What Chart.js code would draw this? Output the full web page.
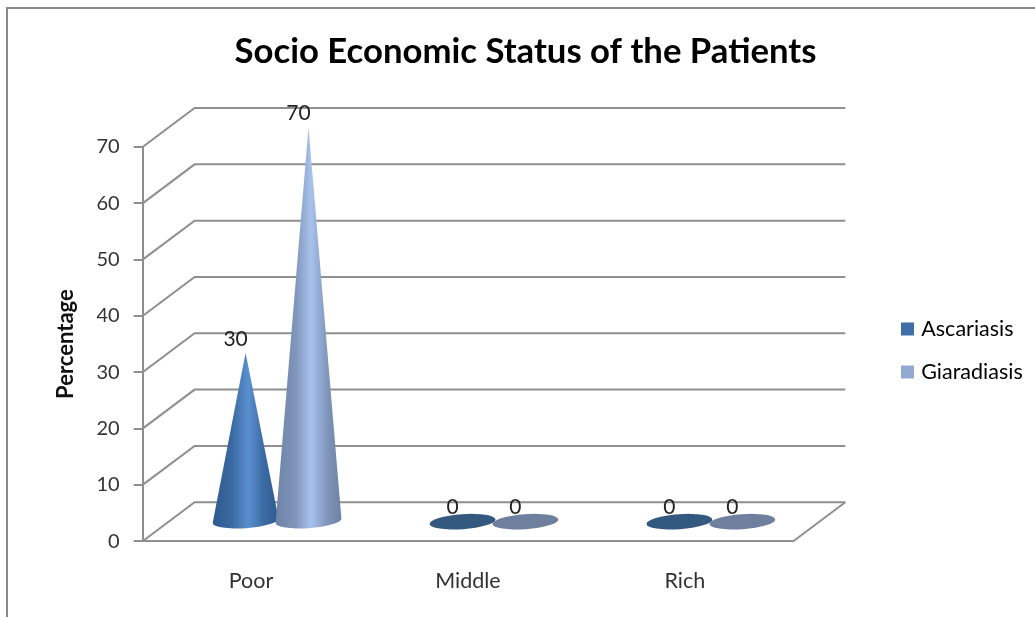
<!DOCTYPE html>
<html>
<head>
<meta charset="utf-8">
<title>Socio Economic Status of the Patients</title>
<script src="https://cdn.jsdelivr.net/npm/chart.js@4"></script>
<style>
    html, body { margin: 0; background: #fff; overflow: hidden; }
    #wrap { position: relative; width: 1035px; height: 617px; }
    #marco { position: absolute; left: 6px; top: 7px; right: 0; bottom: 0; border-top: 2px solid #8a8a8a; border-left: 2px solid #8a8a8a; }
    canvas { display: block; }
</style>
</head>
<body>
<div id="wrap">
    <canvas id="chartEstatus" width="1035" height="617"></canvas>
    <div id="marco"></div>
</div>
<script>
const categorias = ["Poor", "Middle", "Rich"];
const ascariasis = [30, 0, 0];
const giardiasis = [70, 0, 0];
const ticksY = [0, 10, 20, 30, 40, 50, 60, 70];
const nombres = ["Ascariasis", "Giaradiasis"];

// profundidad del piso 3D
const fondoX = 52;
const fondoY = -39;
const colorGrid = "#8f8f8f";

const estilos = [
    { borde: "#2c5a8e", medio: "#3b6aa3", centro: "#5a90cf", plano: "#34597f", leyenda: "#3f6fa8" },
    { borde: "#6d82a6", medio: "#8095bb", centro: "#a8c2ec", plano: "#6f809e", leyenda: "#92a9d2" }
];

// paredes y piso detras de los conos
const paredes = {
    id: "paredes",
    beforeDatasetsDraw(chart) {
        const c = chart.ctx, y = chart.scales.y, a = chart.chartArea;
        c.save();
        c.strokeStyle = colorGrid;
        c.lineWidth = 2;
        ticksY.forEach(t => {
            const py = y.getPixelForValue(t);
            c.beginPath();
            c.moveTo(a.left, py);
            c.lineTo(a.left + fondoX, py + fondoY);
            c.lineTo(a.right + fondoX, py + fondoY);
            c.stroke();
        });
        c.beginPath();
        c.moveTo(a.right, a.bottom);
        c.lineTo(a.right + fondoX, a.bottom + fondoY);
        c.stroke();
        c.restore();
    }
};

// cada barra se dibuja como cono usando la posicion que da la escala
const conos = {
    id: "conos",
    afterDatasetsDraw(chart) {
        const c = chart.ctx;
        chart.data.datasets.forEach((ds, i) => {
            const est = estilos[i];
            chart.getDatasetMeta(i).data.forEach((bar, j) => {
                const cx = bar.x + fondoX / 2;
                const base = bar.base + fondoY / 2;
                const punta = bar.y + fondoY / 2;
                const rx = 33, ry = 7.5, giro = -4 * Math.PI / 180;
                const dx = rx * Math.cos(giro), dy = rx * Math.sin(giro);

                c.save();
                if (ds.data[j] === 0) {
                    c.fillStyle = est.plano;
                    c.beginPath();
                    c.ellipse(cx, base, rx, ry, giro, 0, Math.PI * 2);
                    c.fill();
                } else {
                    const g = c.createLinearGradient(cx - rx, 0, cx + rx, 0);
                    g.addColorStop(0, est.borde);
                    g.addColorStop(0.3, est.medio);
                    g.addColorStop(0.54, est.centro);
                    g.addColorStop(0.78, est.medio);
                    g.addColorStop(1, est.borde);
                    c.fillStyle = g;
                    c.beginPath();
                    c.moveTo(cx, punta);
                    c.lineTo(cx + dx, base + dy);
                    c.ellipse(cx, base, rx, ry, giro, 0, Math.PI);
                    c.closePath();
                    c.fill();
                }
                c.restore();

                c.save();
                c.fillStyle = "#222";
                c.font = "21px Lato";
                c.textAlign = "center";
                c.textBaseline = "middle";
                c.fillText(ds.data[j], cx - 10, punta - 14);
                c.restore();
            });
        });
    }
};

// acomoda la leyenda a la derecha, a media altura de los ejes
const moverLeyenda = {
    id: "moverLeyenda",
    afterLayout(chart) {
        const l = chart.legend;
        const dx = 883 - l.left;
        l.left += dx;
        l.right += dx;
        l.top += 28.5;
        l.bottom += 28.5;
    }
};

new Chart(document.getElementById("chartEstatus"), {
    type: "bar",
    data: {
        labels: categorias,
        datasets: [
            { label: nombres[0], data: ascariasis, backgroundColor: "rgba(0,0,0,0)", hoverBackgroundColor: "rgba(0,0,0,0)" },
            { label: nombres[1], data: giardiasis, backgroundColor: "rgba(0,0,0,0)", hoverBackgroundColor: "rgba(0,0,0,0)" }
        ]
    },
    options: {
        responsive: false,
        animation: false,
        categoryPercentage: 0.58,
        barPercentage: 1,
        layout: { padding: { left: 53, right: 37, top: 31, bottom: 4 } },
        plugins: {
            title: {
                display: true,
                text: "Socio Economic Status of the Patients",
                color: "#000",
                font: { family: "Lato", size: 34.7, weight: "bold" },
                padding: { top: 0, bottom: 74.4 }
            },
            legend: {
                position: "right",
                labels: {
                    color: "#333",
                    font: { family: "Lato", size: 21.5 },
                    usePointStyle: true,
                    boxWidth: 6,
                    boxHeight: 13,
                    padding: 21.5,
                    generateLabels: () => nombres.map((t, i) => ({
                        text: t, fillStyle: estilos[i].leyenda, strokeStyle: estilos[i].leyenda, lineWidth: 0, pointStyle: "rect", datasetIndex: i
                    }))
                }
            },
            tooltip: { enabled: false }
        },
        scales: {
            x: {
                grid: { display: false },
                border: { color: colorGrid, width: 2 },
                ticks: { color: "#333", font: { family: "Lato", size: 21.5 }, padding: 19, maxRotation: 0 }
            },
            y: {
                min: 0,
                max: 70,
                afterBuildTicks(ax) { ax.ticks = ticksY.map(v => ({ value: v })); },
                grid: { drawOnChartArea: false, color: colorGrid, lineWidth: 2, tickLength: 9 },
                border: { color: colorGrid, width: 2 },
                ticks: { color: "#333", font: { family: "Lato", size: 20 }, padding: 14 },
                title: { display: true, text: "Percentage", color: "#111", font: { family: "Lato", size: 22, weight: "bold" }, padding: { top: 0, bottom: 3 } }
            },
            // hueco entre los ejes y la leyenda
            hueco: {
                axis: "y",
                position: "right",
                afterFit(ax) { ax.width = 55; },
                grid: { display: false },
                border: { display: false },
                ticks: { display: false }
            }
        }
    },
    plugins: [paredes, conos, moverLeyenda]
});
</script>
</body>
</html>
